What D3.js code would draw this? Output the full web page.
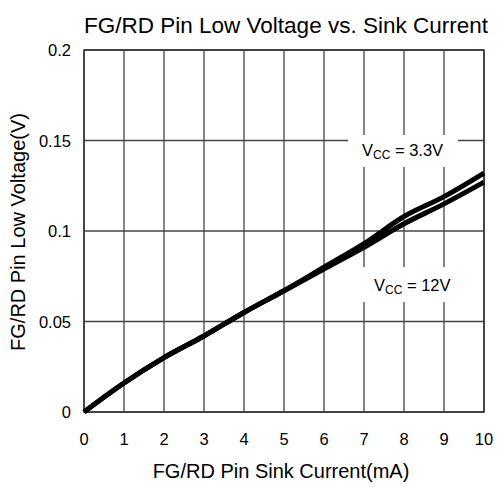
<!DOCTYPE html>
<html><head><meta charset="utf-8">
<script src="https://cdn.jsdelivr.net/npm/d3@7"></script>
<style>body{margin:0;background:#fff}svg{font-family:Arial,"Liberation Sans",sans-serif}</style>
</head><body><svg id="c" width="500" height="487"></svg>
<script>
const currents = [0,1,2,3,4,5,6,7,8,9,10];
const vcc33 = [0,0.016,0.030,0.042,0.055,0.067,0.080,0.093,0.108,0.119,0.132];
const vcc12 = [0,0.016,0.030,0.042,0.055,0.067,0.079,0.091,0.104,0.115,0.127];
const xTicks = [0,1,2,3,4,5,6,7,8,9,10];
const yTicks = [0,0.05,0.1,0.15,0.2];
const yTickLabels = ["0","0.05","0.1","0.15","0.2"];
const title = "FG/RD Pin Low Voltage vs. Sink Current";
const xTitle = "FG/RD Pin Sink Current(mA)";
const yTitle = "FG/RD Pin Low Voltage(V)";

const svg = d3.select("#c");
const L=84,R=484,T=50,B=412;
const x = d3.scaleLinear().domain([0,10]).range([L,R]);
const y = d3.scaleLinear().domain([0,0.2]).range([B,T]);

const grid = svg.append("g").attr("stroke","#444").attr("stroke-width",1.3);
xTicks.forEach(t=>grid.append("line").attr("x1",x(t)).attr("x2",x(t)).attr("y1",T).attr("y2",B));
yTicks.forEach(t=>grid.append("line").attr("x1",L).attr("x2",R).attr("y1",y(t)).attr("y2",y(t)));

function vlabel(cx, cy, txt, box){
  svg.append("rect").attr("x",box[0]).attr("y",box[1]).attr("width",box[2]).attr("height",box[3]).attr("fill","#fff");
  const t = svg.append("text").attr("x",cx).attr("y",cy).attr("font-size",16.5).attr("fill","#000");
  t.append("tspan").text("V");
  t.append("tspan").attr("font-size",12).attr("dy",3).text("CC");
  t.append("tspan").attr("dy",-3).text(" = "+txt);
}
vlabel(362,156,"3.3V",[348,135,110,32]);
vlabel(374,291,"12V",[356,267,100,35]);

svg.append("rect").attr("x",L).attr("y",T).attr("width",R-L).attr("height",B-T).attr("fill","none").attr("stroke","#333").attr("stroke-width",1.5);

const line = d3.line().x((d,i)=>x(currents[i])).y(d=>y(d)).curve(d3.curveMonotoneX);
[vcc33,vcc12].forEach(s=>svg.append("path").attr("d",line(s)).attr("fill","none").attr("stroke","#000").attr("stroke-width",5).attr("stroke-linejoin","round"));

svg.append("g").selectAll("text").data(xTicks).join("text")
  .attr("x",d=>x(d)).attr("y",445).attr("text-anchor","middle").attr("font-size",16.5).text(d=>d);
svg.append("g").selectAll("text").data(yTicks).join("text")
  .attr("x",71).attr("y",d=>y(d)+6).attr("text-anchor","end").attr("font-size",16.5).text((d,i)=>yTickLabels[i]);

svg.append("text").attr("x",286).attr("y",33).attr("text-anchor","middle").attr("font-size",22.5).text(title);
svg.append("text").attr("x",281).attr("y",478).attr("text-anchor","middle").attr("font-size",20).text(xTitle);
svg.append("text").attr("transform","translate(25,232) rotate(-90)").attr("text-anchor","middle").attr("font-size",20).text(yTitle);
</script></body></html>
